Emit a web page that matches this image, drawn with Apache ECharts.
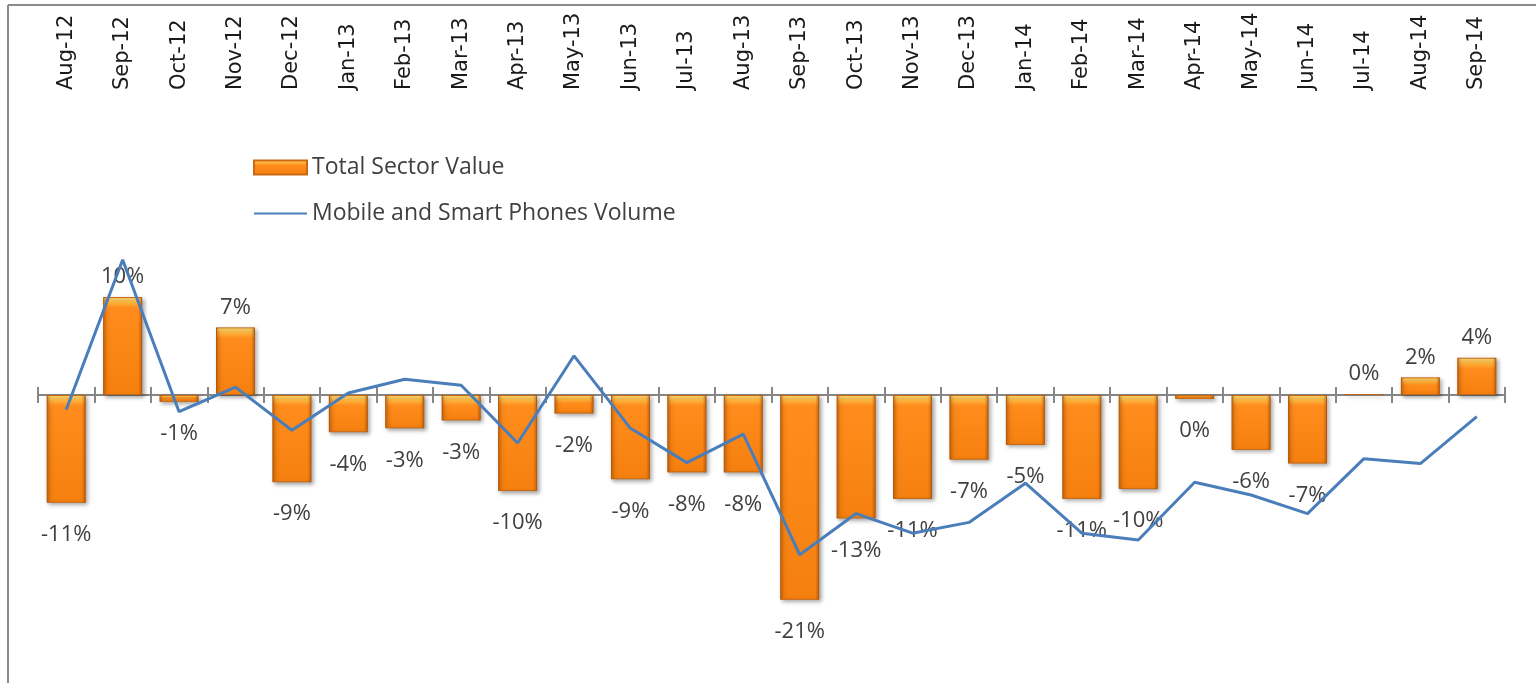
<!DOCTYPE html>
<html>
<head>
<meta charset="utf-8">
<script src="https://cdn.jsdelivr.net/npm/echarts@6/dist/echarts.min.js"></script>
<style>
  html, body { margin: 0; padding: 0; background: #fff; }
  #chart { width: 1536px; height: 683px; }
</style>
</head>
<body>
<div id="chart"></div>
<script>
// 月份
const months = ['Aug-12','Sep-12','Oct-12','Nov-12','Dec-12','Jan-13','Feb-13','Mar-13','Apr-13','May-13','Jun-13','Jul-13','Aug-13',
  'Sep-13','Oct-13','Nov-13','Dec-13','Jan-14','Feb-14','Mar-14','Apr-14','May-14','Jun-14','Jul-14','Aug-14','Sep-14'];
// 柱形图 (%)
const sectorValue = [-11.0, 10.0, -0.7, 6.9, -8.9, -3.8, -3.4, -2.6, -9.8, -1.9, -8.6, -7.9, -7.9,
  -20.9, -12.6, -10.6, -6.6, -5.1, -10.6, -9.6, -0.4, -5.6, -7.0, 0.1, 1.8, 3.8];
// 折线图 (%)
const phoneVolume = [-1.5, 13.8, -1.7, 0.8, -3.6, 0.2, 1.6, 1.0, -4.9, 4.0, -3.4, -6.9, -4.0,
  -16.3, -12.1, -14.1, -13.0, -9.0, -14.1, -14.8, -8.9, -10.2, -12.1, -6.5, -7.0, -2.2];

const barName = 'Total Sector Value';
const lineName = 'Mobile and Smart Phones Volume';

let chart = echarts.init(document.getElementById('chart'));

function barGradient(v) {   // 顶部高光
  let h = Math.min(0.45, 1.1 / Math.max(Math.abs(v), 0.1));
  return new echarts.graphic.LinearGradient(0, 0, 0, 1, [
    { offset: 0, color: '#ffe07a' },
    { offset: h * 0.55, color: '#ffb23a' },
    { offset: h, color: '#ff8c1c' },
    { offset: 1, color: '#f5800f' }
  ]);
}

let edgeShade = new echarts.graphic.LinearGradient(0, 0, 1, 0, [
  { offset: 0, color: 'rgba(160,70,0,0.55)' },
  { offset: 0.1, color: 'rgba(160,70,0,0)' },
  { offset: 0.9, color: 'rgba(160,70,0,0)' },
  { offset: 1, color: 'rgba(160,70,0,0.55)' }
]);

const labelFont = 'Open Sans';

let option = {
  backgroundColor: '#fff',
  animation: false,
  graphic: [   // 外框
    { type: 'line', shape: { x1: 8, y1: 5, x2: 1536, y2: 5 }, style: { stroke: '#8a8a8a', lineWidth: 2 } },
    { type: 'line', shape: { x1: 8, y1: 5, x2: 8, y2: 683 }, style: { stroke: '#8a8a8a', lineWidth: 2 } }
  ],
  legend: {
    orient: 'vertical',
    left: 248,
    top: 151,
    itemWidth: 53,
    itemHeight: 14,
    itemGap: 23,
    textStyle: { fontFamily: labelFont, fontSize: 23, color: '#404040' },
    data: [
      { name: barName, icon: 'rect', itemStyle: { color: barGradient(3) } },
      { name: lineName, itemStyle: { color: 'rgba(0,0,0,0)', opacity: 0 } }
    ]
  },
  grid: { left: 38, right: 31, top: 248, bottom: 43 },
  xAxis: [
    {
      type: 'category', data: months, position: 'bottom',
      axisLine: { onZero: true, onZeroAxisIndex: 0, lineStyle: { color: '#868686', width: 2 } },
      axisTick: { show: true, inside: false, length: 8, lineStyle: { color: '#868686', width: 2 } },
      axisLabel: { show: false }
    },
    {
      type: 'category', data: months, position: 'bottom',
      axisLine: { show: true, onZero: true, onZeroAxisIndex: 0, lineStyle: { color: 'rgba(0,0,0,0)', width: 0 } },
      axisTick: { show: true, inside: true, length: 8, lineStyle: { color: '#868686', width: 2 } },
      axisLabel: { show: false }
    },
    {
      type: 'category', data: months, position: 'top', offset: 150,
      axisLine: { show: false, onZero: false },
      axisTick: { show: false },
      axisLabel: { show: true, rotate: -90, margin: 8, interval: 0, fontFamily: 'DejaVu Sans', fontSize: 21, color: '#1a1a1a' }
    }
  ],
  yAxis: { type: 'value', min: -25, max: 15, show: false, splitLine: { show: false } },
  series: [
    {
      name: barName, type: 'bar', barCategoryGap: '31%', xAxisIndex: 0,
      itemStyle: {
        color: barGradient(3), borderColor: '#c96a12', borderWidth: 1,
        shadowColor: 'rgba(0,0,0,0.35)', shadowBlur: 4, shadowOffsetX: 2, shadowOffsetY: 2
      },
      label: {
        show: true, fontFamily: labelFont, fontSize: 22, color: '#404040',
        formatter: p => Math.round(p.value) + '%'
      },
      data: sectorValue.map(v => ({
        value: v,
        itemStyle: { color: barGradient(v) },
        label: { position: v < 0 ? 'bottom' : 'top', distance: v < 0 ? 21 : 9 }
      }))
    },
    {
      name: 'edge', type: 'bar', barCategoryGap: '31%', barGap: '-100%', xAxisIndex: 0, silent: true,
      itemStyle: { color: edgeShade },
      data: sectorValue
    },
    {
      name: lineName, type: 'line', xAxisIndex: 0, symbol: 'none', z: 5,
      lineStyle: { color: '#4a7ebb', width: 3 },
      itemStyle: { color: '#4a7ebb' },
      data: phoneVolume
    }
  ]
};
chart.setOption(option);
</script>
</body>
</html>
